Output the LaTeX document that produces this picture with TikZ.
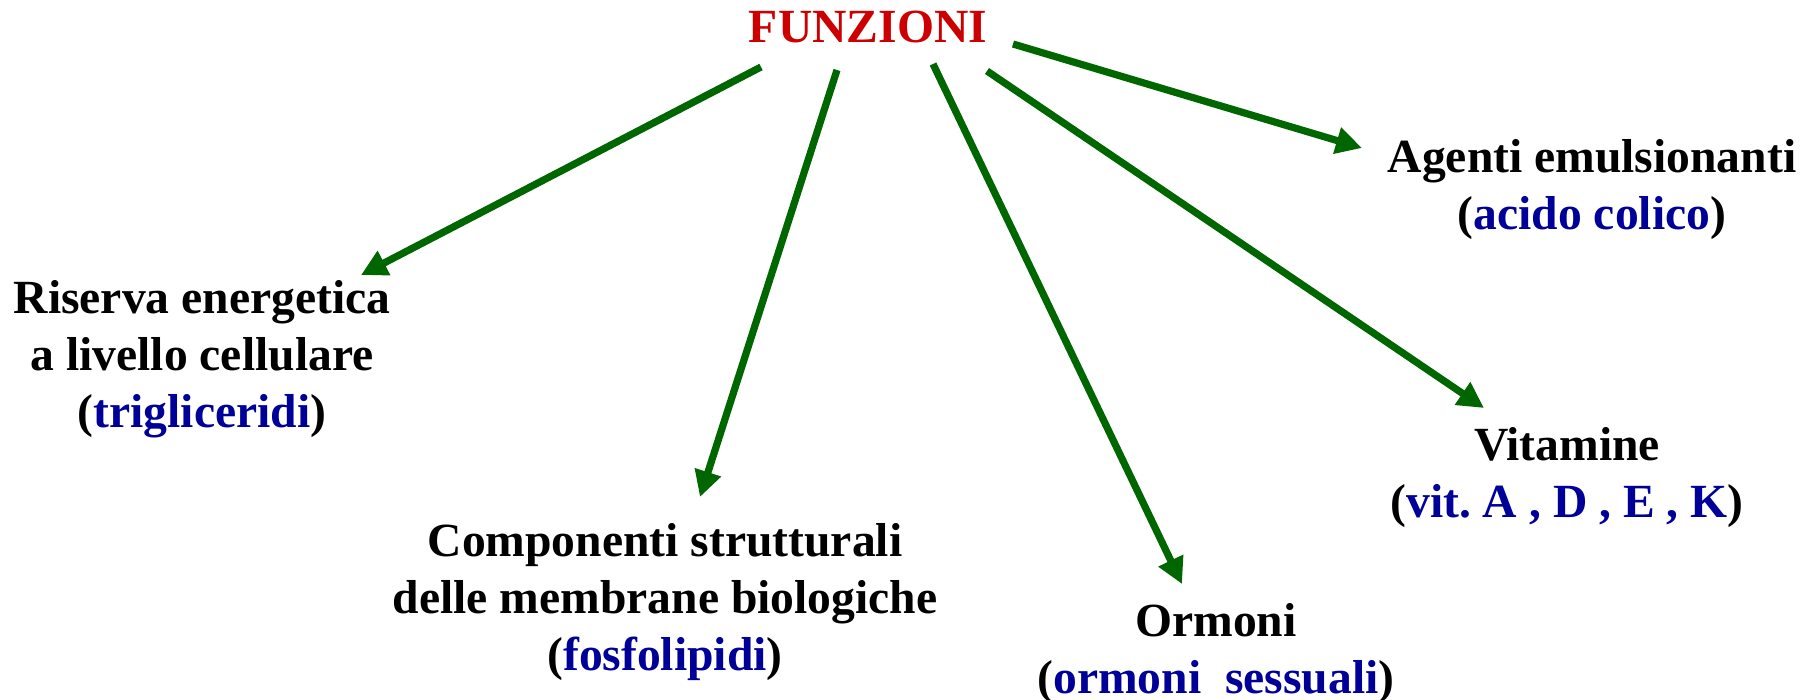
\documentclass[tikz,border=0pt]{standalone}
\usepackage{fontspec}
\setmainfont{Liberation Serif}
\usetikzlibrary{arrows.meta}
\definecolor{titlered}{RGB}{204,0,0}
\definecolor{itemblue}{RGB}{0,0,153}
\definecolor{arrowgreen}{RGB}{0,102,0}
\newcommand{\ex}[1]{\textcolor{itemblue}{#1}}
\frenchspacing
\begin{document}
\begin{tikzpicture}[x=0.5pt,y=-0.5pt,
  label text/.style={inner sep=0pt, anchor=base, align=center,
    font=\fontsize{23.8}{28.5}\selectfont\bfseries},
  link/.style={arrowgreen, line width=3.6pt,
    -{Triangle[length=13pt,width=13pt]}}]
\useasboundingbox (0,0) rectangle (1817,700);

% central heading
\node[label text, text=titlered] (fun) at (868,43) {FUNZIONI};

% functions (positioned by the baseline of their last line)
\node[label text] (ris) at (202,428) {Riserva energetica\\ a livello cellulare\\ (\ex{trigliceridi})};
\node[label text] (com) at (665,670) {Componenti strutturali\\ delle membrane biologiche\\ (\ex{fosfolipidi})};
\node[label text] (orm) at (1216,693) {Ormoni\\ (\ex{ormoni\ \ sessuali})};
\node[label text] (vit) at (1567,517) {Vitamine\\ (\ex{vit. A , D , E , K})};
\node[label text] (age) at (1592,230) {Agenti emulsionanti\\ (\ex{acido colico})};

% arrow ends around the heading and next to each function
\coordinate (f1) at (761,67);
\coordinate (f2) at (837,70);
\coordinate (f3) at (933,64);
\coordinate (f4) at (987,71);
\coordinate (f5) at (1013,44);
\coordinate (t1) at (361,275);
\coordinate (t2) at (700,497);
\coordinate (t3) at (1182,584);
\coordinate (t4) at (1484,408);
\coordinate (t5) at (1362,148);

\draw[link] (f1) -- (t1);
\draw[link] (f2) -- (t2);
\draw[link] (f3) -- (t3);
\draw[link] (f4) -- (t4);
\draw[link] (f5) -- (t5);
\end{tikzpicture}
\end{document}
